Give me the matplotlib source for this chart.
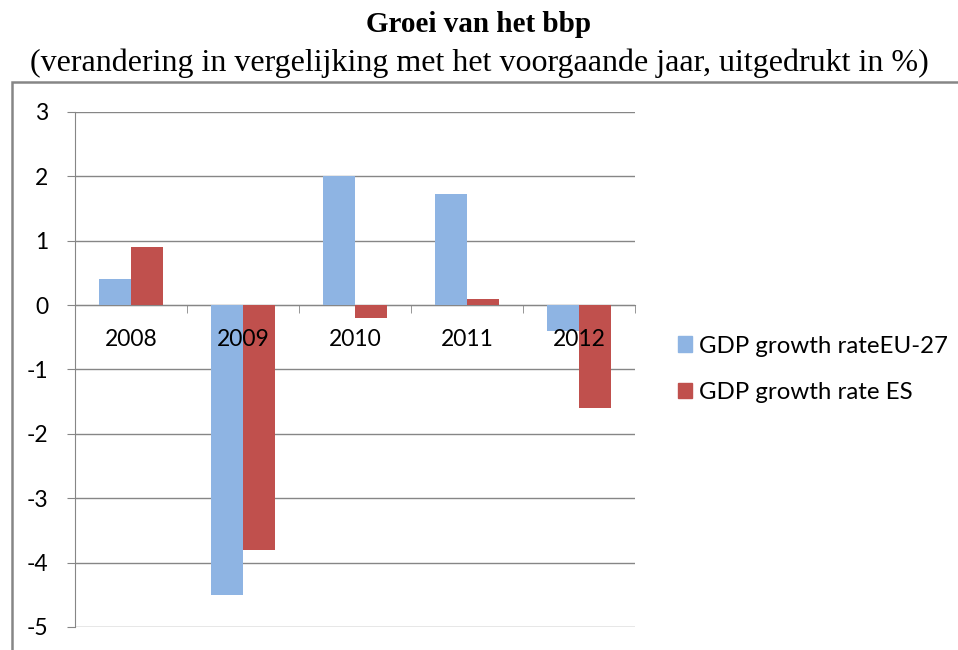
import numpy as np
import matplotlib.pyplot as plt
from matplotlib.patches import Patch, Rectangle

years = ['2008', '2009', '2010', '2011', '2012']
eu27 = [0.4, -4.5, 2.0, 1.72, -0.4]
es = [0.9, -3.8, -0.2, 0.1, -1.6]

blue = '#8EB4E3'
red = '#C0504D'
grid_col = '#868686'

plt.rcParams['font.family'] = ['Lato', 'DejaVu Sans']
plt.rcParams['axes.unicode_minus'] = False

fig = plt.figure(figsize=(9.58, 6.5), dpi=100)
ax = fig.add_axes([0.0783, 0.0354, 0.5846, 0.7923])

x = np.arange(len(years))
w = 0.286
ax.bar(x - w / 2, eu27, w, color=blue, zorder=3)
ax.bar(x + w / 2, es, w, color=red, zorder=3)

ax.set_xlim(-0.5, len(years) - 0.5)
ax.set_ylim(-5, 3)
ax.set_yticks(range(-5, 4))
ax.yaxis.grid(True, color=grid_col, linewidth=1.0)
ax.yaxis.set_zorder(0.5)
ax.tick_params(axis='y', length=6, color=grid_col, labelsize=16.5, pad=13)

ax.spines['top'].set_visible(False)
ax.spines['right'].set_visible(False)
ax.spines['left'].set_color(grid_col)
ax.spines['bottom'].set_color(grid_col)
ax.spines['bottom'].set_position(('data', 0))
ax.spines['bottom'].set_zorder(2)

ax.set_xticks(x)
ax.set_xticklabels(years)
ax.set_xticks(np.arange(-0.5, len(years)), minor=True)
ax.tick_params(axis='x', which='major', length=0, labelsize=16.5, pad=17)
ax.tick_params(axis='x', which='minor', length=6, color=grid_col)
ax.xaxis.set_zorder(4)

handles = [Patch(color=blue, label='GDP growth rateEU-27'),
           Patch(color=red, label='GDP growth rate ES')]
fig.legend(handles=handles, loc='center left', bbox_to_anchor=(0.685, 0.432),
           frameon=False, fontsize=17.3, handlelength=0.6, handleheight=0.6,
           handletextpad=0.3, labelspacing=1.05)

# outer chart border
fig.patches.append(Rectangle((12 / 958, -0.05), 1.0, 0.05 + 1 - 82 / 650,
                             transform=fig.transFigure, fill=False,
                             edgecolor=grid_col, linewidth=1.8))

fig.text(0.5, 0.962, 'Groei van het bbp', ha='center', va='center',
         family='Liberation Serif', fontweight='bold', fontsize=21)
fig.text(0.5, 0.902, '(verandering in vergelijking met het voorgaande jaar, uitgedrukt in %)',
         ha='center', va='center', family='Liberation Serif', fontsize=23)

fig.savefig('out.png', dpi=100)
